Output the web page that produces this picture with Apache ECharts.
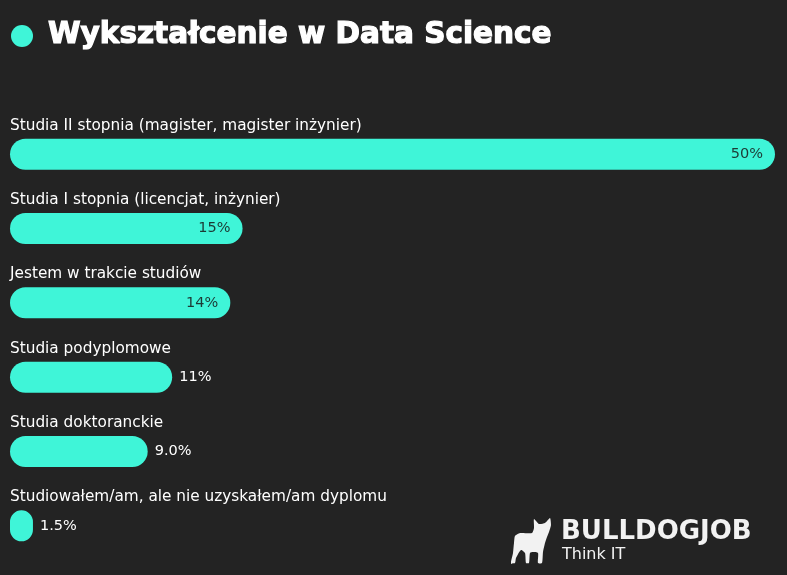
<!DOCTYPE html>
<html>
<head>
<meta charset="utf-8">
<script src="https://cdn.jsdelivr.net/npm/echarts@6/dist/echarts.min.js"></script>
<style>
html,body{margin:0;padding:0;background:#232323;}
#chart{width:787px;height:575px;}
</style>
</head>
<body>
<div id="chart"></div>
<script>
const categories=['Studia II stopnia (magister, magister inżynier)','Studia I stopnia (licencjat, inżynier)','Jestem w trakcie studiów','Studia podyplomowe','Studia doktoranckie','Studiowałem/am, ale nie uzyskałem/am dyplomu'];
const values=[50,15.2,14.4,10.6,9.0,1.5];
const insideLabel=[true,true,true,false,false,false];

const FONT='"DejaVu Sans", sans-serif';
const TEAL='#3ff5d8';

// sylwetka psa z logo
const dog=[[534,519],[539,524],[545,523],[550,518],[551,525],[549,532],[547,537],[545,543],[543,552],[542,563],[538,563],[538,553],[533,552],[530,553],[529,563],[526,563],[525,553],[521,550],[516,558],[515,563],[511,563],[513,553],[514,543],[515,536],[520,533],[532,533],[534,528]];

const chart=echarts.init(document.getElementById('chart'));
chart.setOption({
    backgroundColor:'#232323',
    animation:false,
    grid:{left:10,right:12,top:117,bottom:12},
    xAxis:{type:'value',min:0,max:50,show:false},
    yAxis:{
        type:'category',data:categories,inverse:true,
        axisLine:{show:false},axisTick:{show:false},
        axisLabel:{inside:true,margin:0,align:'left',verticalAlign:'bottom',padding:[0,0,21,0],color:'#ffffff',fontFamily:FONT,fontSize:15.3}
    },
    series:[{
        type:'bar',barWidth:31,
        itemStyle:{color:TEAL,borderRadius:16},
        data:values.map((v,i)=>({
            value:v,
            label:insideLabel[i]
                ?{show:true,position:'insideRight',distance:12,color:'#1d3a35'}
                :{show:true,position:'right',distance:7,color:'#ffffff'}
        })),
        label:{fontFamily:FONT,fontSize:14.5,formatter:p=>p.value.toPrecision(2)+'%'}
    }],
    graphic:[
        {type:'circle',shape:{cx:22,cy:36,r:11},style:{fill:TEAL}},
        {type:'text',x:48,y:20,style:{text:'Wykształcenie w Data Science',fill:'#ffffff',stroke:'#ffffff',lineWidth:1.2,font:'bold 29.5px "DejaVu Sans", sans-serif'}},
        {type:'polygon',shape:{points:dog,smooth:0.2},style:{fill:'#f2f2f2'}},
        {type:'text',x:561,y:519,style:{text:'BULLDOGJOB',fill:'#f2f2f2',font:'bold 26px "DejaVu Sans", sans-serif'}},
        {type:'text',x:562,y:547,style:{text:'Think IT',fill:'#f2f2f2',font:'16px "DejaVu Sans", sans-serif'}}
    ]
});
</script>
</body>
</html>
